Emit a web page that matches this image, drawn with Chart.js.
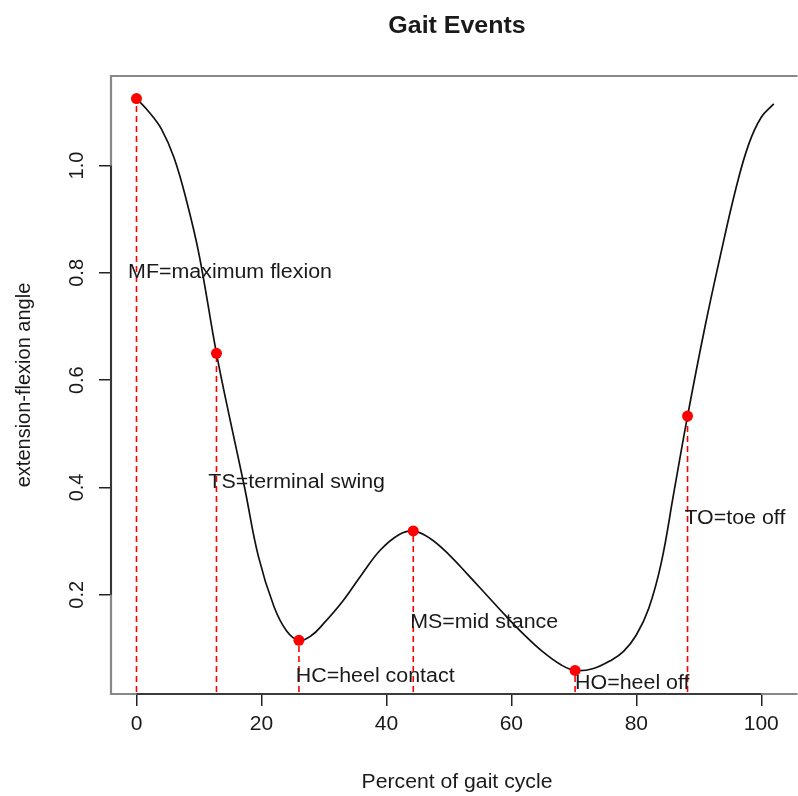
<!DOCTYPE html>
<html>
<head>
<meta charset="utf-8">
<title>Gait Events</title>
<script src="https://cdn.jsdelivr.net/npm/chart.js@4.4.1/dist/chart.umd.min.js"></script>
<style>
  html, body { margin: 0; padding: 0; background: #fff; }
  canvas { display: block; }
</style>
</head>
<body>
<canvas id="gaitChart" width="798" height="796"></canvas>
<script>
// knee curve over the gait cycle
const cycleX = [0, 2, 4, 6, 8, 10, 12.8, 15, 17.3, 19.5, 22, 24, 26, 28, 30, 33, 36, 39, 42, 44.3,
                47, 50, 53, 56, 59, 62, 65, 68, 70.2, 73, 76, 78, 80, 82, 84, 86, 88.2, 91, 93.3, 96, 98, 100, 102];
const angleY = [1.125, 1.100, 1.068, 1.015, 0.935, 0.835, 0.650, 0.525, 0.400, 0.272, 0.178, 0.133, 0.115, 0.124, 0.147, 0.188, 0.237, 0.283, 0.312, 0.319,
                0.305, 0.275, 0.238, 0.200, 0.162, 0.126, 0.094, 0.069, 0.059, 0.062, 0.078, 0.095, 0.125, 0.175, 0.260, 0.390, 0.533, 0.700, 0.824, 0.960, 1.040, 1.090, 1.115];

// gait events
const eventNames = ['MF=maximum flexion', 'TS=terminal swing', 'HC=heel contact', 'MS=mid stance', 'HO=heel off', 'TO=toe off'];
const eventX = [0, 12.8, 26, 44.3, 70.2, 88.2];
const eventY = [1.125, 0.650, 0.115, 0.319, 0.059, 0.533];
// where the names are written (left end, middle)
const labelX = [-1.35, 11.5, 25.5, 43.8, 70.2, 87.7];
const labelY = [0.800, 0.410, 0.048, 0.148, 0.035, 0.343];

const xTicks = [0, 20, 40, 60, 80, 100];
const yTicks = [0.2, 0.4, 0.6, 0.8, 1.0];

const fontFamily = '"Liberation Sans", Arial, Helvetica, sans-serif';
const textColor = '#1a1a1a';

const datasets = [];
datasets.push({
    type: 'scatter',
    data: eventX.map((x, i) => ({ x: x, y: eventY[i] })),
    pointRadius: 5.5,
    pointBackgroundColor: '#ff0000',
    pointBorderWidth: 0,
    showLine: false,
    order: 0
});
datasets.push({
    type: 'line',
    data: cycleX.map((x, i) => ({ x: x, y: angleY[i] })),
    borderColor: '#111',
    borderWidth: 1.7,
    pointRadius: 0,
    tension: 0.4,
    fill: false,
    order: 1
});
// red dashed drop lines
eventX.forEach((x, i) => {
    datasets.push({
        type: 'line',
        data: [{ x: x, y: 0 }, { x: x, y: eventY[i] }],
        borderColor: '#ff0000',
        borderWidth: 1.6,
        borderDash: [6, 4],
        pointRadius: 0,
        fill: false,
        order: 2
    });
});

// text a bit wider than it is tall, like the picture
function wideText(ctx, text, x, y, sx) {
    ctx.save();
    ctx.translate(x, y);
    ctx.scale(sx, 1);
    ctx.fillText(text, 0, 0);
    ctx.restore();
}

// box, rotated y labels, titles, event names
const decorations = {
    id: 'decorations',
    afterDatasetsDraw(chart) {
        const ctx = chart.ctx;
        const xs = chart.scales.x, ys = chart.scales.y;
        ctx.save();
        ctx.font = '20px ' + fontFamily;
        ctx.fillStyle = textColor;
        ctx.textAlign = 'left';
        ctx.textBaseline = 'middle';
        eventNames.forEach((name, i) => {
            wideText(ctx, name, xs.getPixelForValue(labelX[i]), ys.getPixelForValue(labelY[i]), 1.07);
        });
        ctx.restore();
    },
    afterDraw(chart) {
        const ctx = chart.ctx;
        const area = chart.chartArea;
        const xs = chart.scales.x, ys = chart.scales.y;
        ctx.save();
        // box
        ctx.strokeStyle = '#888';
        ctx.lineWidth = 2.2;
        ctx.beginPath();
        ctx.moveTo(area.right + 5, area.top);
        ctx.lineTo(area.left, area.top);
        ctx.lineTo(area.left, area.bottom);
        ctx.lineTo(area.right + 5, area.bottom);
        ctx.stroke();
        // axis lines between the end ticks
        ctx.strokeStyle = '#222';
        ctx.lineWidth = 1.6;
        ctx.beginPath();
        ctx.moveTo(xs.getPixelForValue(xTicks[0]), area.bottom);
        ctx.lineTo(xs.getPixelForValue(xTicks[xTicks.length - 1]), area.bottom);
        ctx.moveTo(area.left, ys.getPixelForValue(yTicks[0]));
        ctx.lineTo(area.left, ys.getPixelForValue(yTicks[yTicks.length - 1]));
        ctx.stroke();

        ctx.fillStyle = textColor;
        // y tick labels, turned like R does
        ctx.font = '20px ' + fontFamily;
        ctx.textAlign = 'center';
        ctx.textBaseline = 'middle';
        yTicks.forEach(v => {
            ctx.save();
            ctx.translate(77.5, ys.getPixelForValue(v));
            ctx.rotate(-Math.PI / 2);
            ctx.fillText(v.toFixed(1), 0, 0);
            ctx.restore();
        });
        // y title
        ctx.save();
        ctx.translate(24, (area.top + area.bottom) / 2);
        ctx.rotate(-Math.PI / 2);
        ctx.fillText('extension-flexion angle', 0, 0);
        ctx.restore();
        // x title
        ctx.textBaseline = 'alphabetic';
        wideText(ctx, 'Percent of gait cycle', 457, 788, 1.06);
        // main title
        ctx.font = 'bold 24px ' + fontFamily;
        wideText(ctx, 'Gait Events', 457, 33, 1.04);
        ctx.restore();
    }
};

new Chart(document.getElementById('gaitChart'), {
    type: 'scatter',
    data: { datasets: datasets },
    options: {
        responsive: false,
        animation: false,
        events: [],
        layout: { padding: { top: 76, left: 0, right: 0, bottom: 0 } },
        plugins: {
            legend: { display: false },
            title: { display: false },
            tooltip: { enabled: false }
        },
        scales: {
            x: {
                type: 'linear',
                min: -4.08,
                max: 105.0,
                afterBuildTicks: s => { s.ticks = xTicks.map(v => ({ value: v })); },
                afterFit: s => { s.height = 102; },
                grid: { drawOnChartArea: false, drawTicks: true, tickLength: 12, color: '#222', lineWidth: 1.5 },
                border: { display: false },
                ticks: {
                    font: { family: fontFamily, size: 21 },
                    color: textColor,
                    padding: 6,
                    maxRotation: 0,
                    autoSkip: false,
                    callback: v => String(v)
                }
            },
            y: {
                type: 'linear',
                min: 0.015,
                max: 1.167,
                afterBuildTicks: s => { s.ticks = yTicks.map(v => ({ value: v })); },
                afterFit: s => { s.width = 111; },
                grid: { drawOnChartArea: false, drawTicks: true, tickLength: 12, color: '#222', lineWidth: 1.5 },
                border: { display: false },
                ticks: { display: false }
            }
        }
    },
    plugins: [decorations]
});
</script>
</body>
</html>
